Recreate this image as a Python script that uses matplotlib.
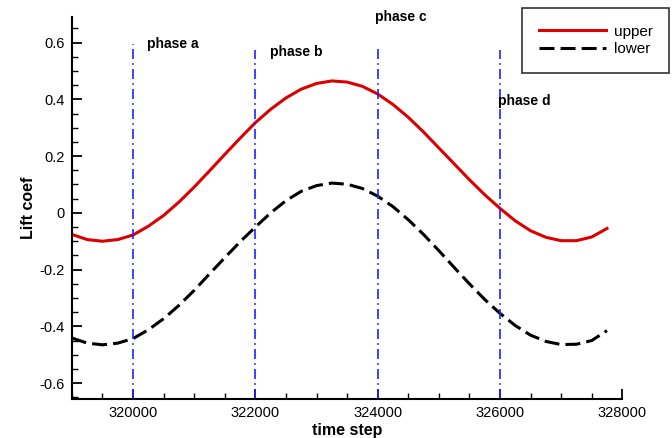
import matplotlib
matplotlib.use('Agg')
import matplotlib.pyplot as plt
from matplotlib.ticker import MultipleLocator

plt.rcParams['font.family'] = ['Liberation Sans', 'DejaVu Sans']

# lift coefficient history over one oscillation cycle
time_step = [319000, 319250, 319500, 319750, 320000, 320250, 320500, 320750,
             321000, 321250, 321500, 321750, 322000, 322250, 322500, 322750,
             323000, 323250, 323500, 323750, 324000, 324250, 324500, 324750,
             325000, 325250, 325500, 325750, 326000, 326250, 326500, 326750,
             327000, 327250, 327500, 327750]
upper = [-0.076, -0.094, -0.100, -0.094, -0.078, -0.047, -0.009, 0.038,
         0.091, 0.148, 0.206, 0.263, 0.318, 0.365, 0.405, 0.436,
         0.456, 0.465, 0.461, 0.446, 0.419, 0.382, 0.337, 0.285,
         0.229, 0.173, 0.117, 0.064, 0.016, -0.028, -0.063, -0.086,
         -0.098, -0.098, -0.085, -0.055]
lower = [-0.441, -0.459, -0.465, -0.459, -0.443, -0.412, -0.373, -0.326,
         -0.273, -0.215, -0.158, -0.102, -0.050, 0.000, 0.043, 0.076,
         0.096, 0.105, 0.101, 0.086, 0.059, 0.022, -0.024, -0.076,
         -0.133, -0.192, -0.250, -0.305, -0.354, -0.397, -0.431, -0.453,
         -0.464, -0.463, -0.450, -0.415]

phase_steps = [320000, 322000, 324000, 326000]
phase_names = ['phase a', 'phase b', 'phase c', 'phase d']
phase_top = [0.595, 0.575, 0.59, 0.575]
label_pos = [(320230, 0.596), (322240, 0.568), (323950, 0.69), (325970, 0.393)]

fig = plt.figure(figsize=(6.72, 4.38), dpi=100)
ax = fig.add_axes([0.107, 0.089, 0.819, 0.872])

l1, = ax.plot(time_step, upper, color='#dd0000', lw=2.2, label='upper')
l2, = ax.plot(time_step, lower, color='black', lw=2.2,
              linestyle=(0, (4.9, 2.0)), label='lower')

for xs, top in zip(phase_steps, phase_top):
    ax.plot([xs, xs], [-0.656, top], color='#2222ff', lw=1.2,
            linestyle=(0, (6, 2.5, 1, 2.5)))
for name, (tx, ty) in zip(phase_names, label_pos):
    ax.text(tx, ty, name, fontsize=10, fontweight='bold', va='center',
            ha='left', clip_on=False)

ax.set_xlim(319000, 328000)
ax.set_ylim(-0.656, 0.69)
ax.xaxis.set_major_locator(MultipleLocator(2000))
ax.xaxis.set_minor_locator(MultipleLocator(500))
ax.yaxis.set_major_locator(MultipleLocator(0.2))
ax.yaxis.set_minor_locator(MultipleLocator(0.05))
ax.set_yticks([-0.6, -0.4, -0.2, 0, 0.2, 0.4, 0.6])
ax.set_yticklabels(['-0.6', '-0.4', '-0.2', '0', '0.2', '0.4', '0.6'])

for side in ['top', 'right']:
    ax.spines[side].set_visible(False)
for side in ['left', 'bottom']:
    ax.spines[side].set_linewidth(1.5)
ax.tick_params(which='major', direction='in', length=7, width=1.3,
               labelsize=10.5, pad=5)
ax.tick_params(which='minor', direction='in', length=4, width=1)

ax.set_xlabel('time step', fontsize=11.5, fontweight='bold', labelpad=2)
ax.set_ylabel('Lift coef', fontsize=11.5, fontweight='bold', labelpad=3)

leg = fig.legend(handles=[l1, l2], loc='upper left',
                 bbox_to_anchor=(522 / 672, 1 - 8 / 438), fancybox=False,
                 edgecolor='black', fontsize=11, handlelength=4.4,
                 handletextpad=0.5, borderpad=1.1, labelspacing=0.2,
                 borderaxespad=0)
leg.get_frame().set_linewidth(1.2)

fig.savefig('out.png', dpi=100)
